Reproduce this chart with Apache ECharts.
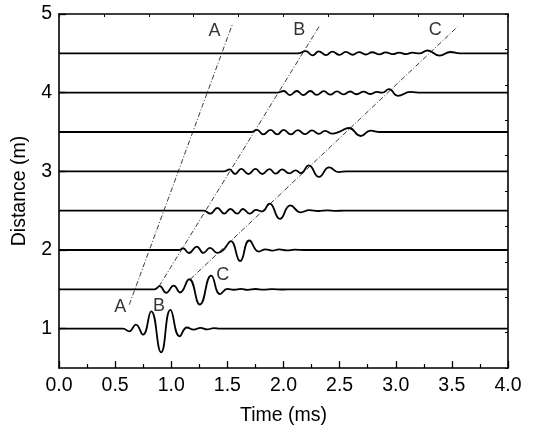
<!DOCTYPE html>
<html>
<head>
<meta charset="utf-8">
<script src="https://cdn.jsdelivr.net/npm/echarts@6/dist/echarts.min.js"></script>
<style>
  html, body { margin: 0; padding: 0; background: #fff; }
  #chart { width: 552px; height: 434px; }
</style>
</head>
<body>
<div id="chart"></div>
<script>
// axis ticks
const xTicks = [0, 0.5, 1, 1.5, 2, 2.5, 3, 3.5, 4]
const yTicks = [1, 2, 3, 4, 5]

// waveforms, [time ms, distance m]
const trace10 = [[0, 1], [0.57, 1], [0.626, 0.966], [0.684, 1.051], [0.748, 0.924], [0.821, 1.22], [0.91, 0.7], [0.993, 1.24], [1.075, 0.903], [1.14, 1.015], [1.2, 0.988], [1.26, 1.01], [1.32, 0.99], [1.38, 1.008], [1.435, 1], [4, 1]]
const trace15 = [[0, 1.5], [0.85, 1.5], [0.897, 1.54], [0.955, 1.455], [1.022, 1.548], [1.078, 1.46], [1.16, 1.628], [1.255, 1.307], [1.356, 1.675], [1.435, 1.44], [1.5, 1.505], [1.56, 1.495], [1.62, 1.506], [1.68, 1.494], [1.75, 1.504], [1.82, 1.496], [1.9, 1.503], [2.0, 1.498], [2.07, 1.5], [4, 1.5]]
const trace20 = [[0, 2], [1.07, 2], [1.104, 2.022], [1.158, 1.962], [1.227, 2.043], [1.287, 1.964], [1.345, 2.028], [1.41, 1.964], [1.47, 2.01], [1.53, 2.113], [1.614, 1.859], [1.695, 2.121], [1.78, 1.98], [1.84, 2.008], [1.9, 1.993], [1.96, 2.007], [2.03, 1.995], [2.1, 2.004], [2.18, 2], [4, 2]]
const trace25 = [[0, 2.5], [1.29, 2.5], [1.347, 2.462], [1.411, 2.534], [1.472, 2.462], [1.527, 2.521], [1.588, 2.462], [1.638, 2.521], [1.699, 2.462], [1.755, 2.51], [1.81, 2.49], [1.876, 2.589], [1.968, 2.396], [2.061, 2.566], [2.153, 2.479], [2.23, 2.506], [2.31, 2.496], [2.39, 2.503], [2.47, 2.498], [2.54, 2.5], [4, 2.5]]
const trace30 = [[0, 3], [1.47, 3], [1.52, 3.026], [1.568, 2.966], [1.624, 3.03], [1.688, 2.966], [1.75, 3.03], [1.811, 2.966], [1.875, 3.028], [1.931, 2.97], [1.987, 3.024], [2.052, 2.975], [2.108, 3.013], [2.155, 2.976], [2.225, 3.075], [2.316, 2.93], [2.407, 3.05], [2.49, 2.99], [2.563, 3], [4, 3]]
const trace35 = [[0, 3.5], [1.708, 3.5], [1.764, 3.527], [1.82, 3.47], [1.884, 3.527], [1.945, 3.47], [2.001, 3.527], [2.066, 3.47], [2.127, 3.525], [2.191, 3.473], [2.253, 3.52], [2.315, 3.476], [2.37, 3.515], [2.435, 3.48], [2.5, 3.505], [2.583, 3.551], [2.688, 3.449], [2.775, 3.518], [2.86, 3.5], [4, 3.5]]
const trace40 = [[0, 4], [1.945, 4], [2.001, 4.021], [2.057, 3.97], [2.119, 4.021], [2.175, 3.97], [2.239, 4.021], [2.295, 3.972], [2.359, 4.019], [2.415, 3.974], [2.477, 4.017], [2.533, 3.978], [2.594, 4.015], [2.65, 3.98], [2.714, 4.013], [2.77, 3.983], [2.834, 4.01], [2.88, 4], [2.94, 4.045], [3.018, 3.96], [3.13, 4.01], [3.23, 4], [4, 4]]
const trace45 = [[0, 4.5], [2.127, 4.5], [2.197, 4.528], [2.259, 4.475], [2.314, 4.525], [2.379, 4.477], [2.435, 4.522], [2.499, 4.48], [2.555, 4.519], [2.617, 4.482], [2.672, 4.516], [2.734, 4.485], [2.79, 4.514], [2.854, 4.487], [2.91, 4.512], [2.974, 4.489], [3.03, 4.51], [3.092, 4.49], [3.148, 4.508], [3.21, 4.5], [3.282, 4.536], [3.39, 4.472], [3.488, 4.517], [3.57, 4.5], [4, 4.5]]
const traces = [trace10, trace15, trace20, trace25, trace30, trace35, trace40, trace45]

// arrival lines A, B, C
const lineA = [[0.626, 1.305], [1.545, 4.87]]
const lineB = [[0.891, 1.538], [2.324, 4.857]]
const lineC = [[1.17, 1.628], [3.549, 4.836]]
const arrivalLines = [lineA, lineB, lineC]

// letter labels [time, distance, text]
const letterLabels = [
  [0.545, 1.28, 'A'], [0.89, 1.284, 'B'], [1.458, 1.688, 'C'],
  [1.386, 4.786, 'A'], [2.141, 4.794, 'B'], [3.352, 4.794, 'C'],
]

const font = 'Liberation Sans, Arial, Helvetica, sans-serif'
const chart = echarts.init(document.getElementById('chart'))

let series = []
traces.forEach(tr => {
  series.push({
    type: 'line',
    data: tr,
    smooth: 0.5,
    symbol: 'none',
    lineStyle: { color: '#000', width: 1.8 },
    z: 3,
  })
})
arrivalLines.forEach(ln => {
  series.push({
    type: 'line',
    data: ln,
    symbol: 'none',
    lineStyle: { color: '#222', width: 0.9, type: [5, 2, 1, 2] },
    z: 2,
  })
})
series.push({
  type: 'scatter',
  symbolSize: 0,
  data: letterLabels.map(d => ({ value: [d[0], d[1]], name: d[2] })),
  label: {
    show: true,
    position: 'inside',
    formatter: p => p.name,
    color: '#000',
    fontSize: 18,
    fontFamily: font,
  },
  z: 4,
})

chart.setOption({
  animation: false,
  backgroundColor: '#fff',
  grid: { left: 59, right: 44, top: 14, bottom: 66 },
  xAxis: [
    {
      type: 'value',
      min: 0,
      max: 4,
      interval: 0.5,
      name: 'Time (ms)',
      nameLocation: 'middle',
      nameGap: 38,
      nameTextStyle: { color: '#000', fontSize: 19.5, fontFamily: font },
      axisLine: { show: true, lineStyle: { color: '#000', width: 1.6 } },
      axisTick: { inside: true, length: 7, lineStyle: { color: '#000', width: 1.3 } },
      minorTick: { show: true, splitNumber: 2, length: 4, lineStyle: { color: '#000', width: 1.2 } },
      axisLabel: {
        color: '#000', fontSize: 19.5, fontFamily: font, margin: 8,
        formatter: v => xTicks.includes(v) ? v.toFixed(1) : '',
      },
      splitLine: { show: false },
    },
    {
      // unlabeled frame axis on top, ten divisions
      type: 'value',
      position: 'top',
      min: 0,
      max: 4,
      interval: 0.4,
      axisLine: { show: true, onZero: false, lineStyle: { color: '#000', width: 1.6 } },
      axisTick: { show: true, inside: true, length: 3, lineStyle: { color: '#000', width: 1 } },
      axisLabel: { show: false },
      splitLine: { show: false },
    },
  ],
  yAxis: [
    {
      type: 'value',
      min: 0.5,
      max: 5,
      name: 'Distance (m)',
      nameLocation: 'middle',
      nameGap: 29,
      nameTextStyle: { color: '#000', fontSize: 19.5, fontFamily: font },
      axisLine: { show: true, lineStyle: { color: '#000', width: 1.6 } },
      axisTick: { inside: true, length: 7, customValues: yTicks, lineStyle: { color: '#000', width: 1.3 } },
      axisLabel: { color: '#000', fontSize: 19.5, fontFamily: font, margin: 7, customValues: yTicks },
      splitLine: { show: false },
    },
    {
      // unlabeled frame axis on the right, ten divisions
      type: 'value',
      position: 'right',
      min: 0,
      max: 10,
      interval: 1,
      axisLine: { show: true, onZero: false, lineStyle: { color: '#000', width: 1.6 } },
      axisTick: { show: true, inside: true, length: 3, lineStyle: { color: '#000', width: 1 } },
      axisLabel: { show: false },
      splitLine: { show: false },
    },
  ],
  series: series,
})
</script>
</body>
</html>
